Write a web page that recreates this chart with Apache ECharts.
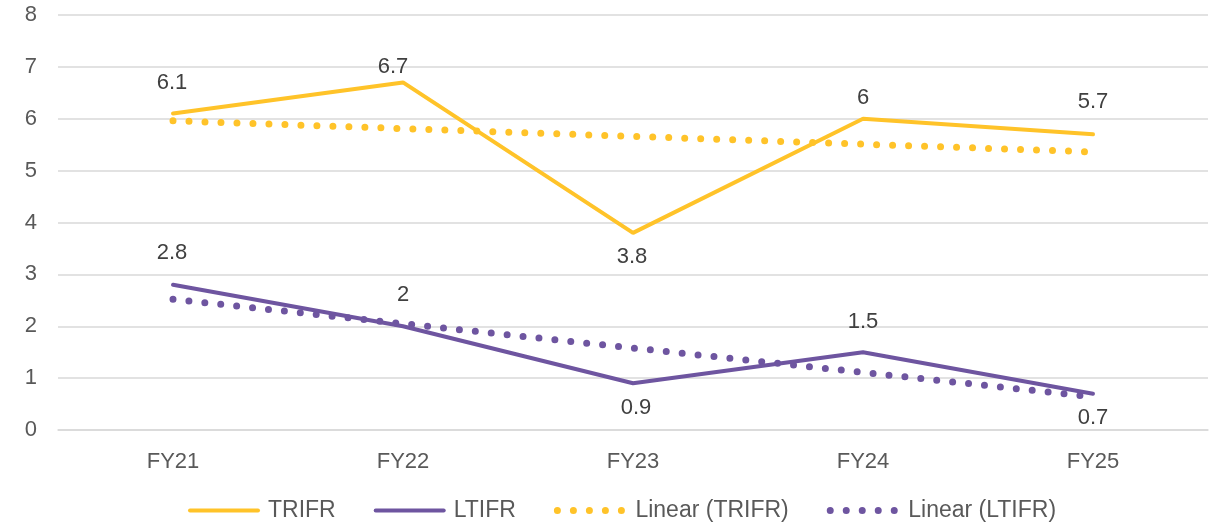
<!DOCTYPE html>
<html>
<head>
<meta charset="utf-8">
<script src="https://cdn.jsdelivr.net/npm/echarts@6/dist/echarts.min.js"></script>
<style>
  html, body { margin: 0; padding: 0; background: #fff; }
  #main { width: 1223px; height: 525px; }
</style>
</head>
<body>
<div id="main"></div>
<script>
const years = ['FY21', 'FY22', 'FY23', 'FY24', 'FY25'];
const trifr = [6.1, 6.7, 3.8, 6, 5.7];
const ltifr = [2.8, 2, 0.9, 1.5, 0.7];
const trifrTrend = [5.96, 5.81, 5.66, 5.51, 5.36];
const ltifrTrend = [2.52, 2.05, 1.58, 1.11, 0.64];

// where each value label sits relative to its point (px)
const trifrLabelShift = [[-1, -31], [-10, -16], [-1, 24], [0, -21], [0, -32]];
const ltifrLabelShift = [[-1, -32], [0, -31], [3, 25], [0, -30], [0, 24]];

const yellow = '#FFC329';
const purple = '#6E55A0';
const font = '"Liberation Sans", Arial, sans-serif';
const dots = { width: 7, type: [0, 16], cap: 'round' };

function withLabels(values, shifts) {
  return values.map((v, i) => ({
    value: v,
    label: { position: 'inside', offset: shifts[i] }
  }));
}

const chart = echarts.init(document.getElementById('main'));

chart.setOption({
  animation: false,
  textStyle: { fontFamily: font },
  grid: { left: 58, right: 15, top: 15, bottom: 95 },
  legend: {
    bottom: -2,
    left: 183,
    itemWidth: 68,
    itemHeight: 10,
    itemGap: 38,
    itemStyle: { color: 'rgba(0,0,0,0)', borderWidth: 0, opacity: 0 },
    textStyle: { fontSize: 23, color: '#595959', fontFamily: font, padding: [0, 0, 0, 5] },
    data: [
      { name: 'TRIFR', lineStyle: { color: yellow, width: 4, cap: 'round' } },
      { name: 'LTIFR', lineStyle: { color: purple, width: 4, cap: 'round' } },
      { name: 'Linear (TRIFR)', lineStyle: Object.assign({ color: yellow }, dots) },
      { name: 'Linear (LTIFR)', lineStyle: Object.assign({ color: purple }, dots) }
    ]
  },
  xAxis: {
    type: 'category',
    data: years,
    boundaryGap: true,
    axisLine: { show: true, lineStyle: { color: '#d9d9d9', width: 1.5 } },
    axisTick: { show: false },
    axisLabel: { fontSize: 22, color: '#595959', margin: 21 }
  },
  yAxis: {
    type: 'value',
    min: 0,
    max: 8,
    interval: 1,
    axisLine: { show: false },
    axisTick: { show: false },
    splitLine: { lineStyle: { color: '#d9d9d9', width: 1.5 } },
    axisLabel: { fontSize: 22, color: '#595959', margin: 21 }
  },
  series: [
    {
      name: 'Linear (TRIFR)',
      type: 'line',
      data: trifrTrend,
      symbol: 'none',
      z: 1,
      lineStyle: Object.assign({ color: yellow }, dots),
      itemStyle: { color: yellow }
    },
    {
      name: 'Linear (LTIFR)',
      type: 'line',
      data: ltifrTrend,
      symbol: 'none',
      z: 1,
      lineStyle: Object.assign({ color: purple }, dots),
      itemStyle: { color: purple }
    },
    {
      name: 'TRIFR',
      type: 'line',
      data: withLabels(trifr, trifrLabelShift),
      symbol: 'circle',
      symbolSize: 0.1,
      z: 3,
      lineStyle: { color: yellow, width: 4, cap: 'round' },
      itemStyle: { color: yellow },
      label: { show: true, fontSize: 22, color: '#404040' }
    },
    {
      name: 'LTIFR',
      type: 'line',
      data: withLabels(ltifr, ltifrLabelShift),
      symbol: 'circle',
      symbolSize: 0.1,
      z: 3,
      lineStyle: { color: purple, width: 4, cap: 'round' },
      itemStyle: { color: purple },
      label: { show: true, fontSize: 22, color: '#404040' }
    }
  ]
});
</script>
</body>
</html>
